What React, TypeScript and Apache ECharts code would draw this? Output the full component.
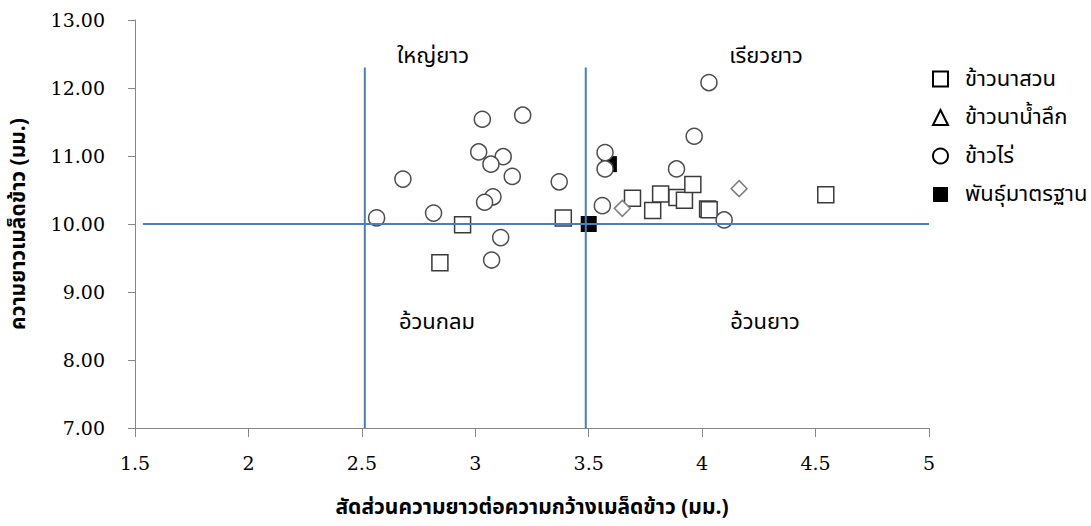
import React, { useEffect, useRef } from 'react';
import * as echarts from 'echarts';

// ข้าวนาสวน (squares)
const paddyRice: number[][] = [
  [2.944, 9.99], [2.844, 9.43], [3.388, 10.09], [3.693, 10.38], [3.817, 10.44],
  [3.782, 10.2], [3.889, 10.39], [3.922, 10.35], [3.959, 10.58], [4.024, 10.22],
  [4.031, 10.21], [4.545, 10.43],
];
// ข้าวนาน้ำลึก (diamonds)
const deepWaterRice: number[][] = [[3.648, 10.23], [4.163, 10.52]];
// ข้าวไร่ (circles)
const uplandRice: number[][] = [
  [3.031, 11.54], [3.209, 11.6], [3.015, 11.06], [3.123, 10.99], [3.069, 10.88],
  [3.163, 10.7], [2.681, 10.66], [3.37, 10.62], [3.078, 10.4], [3.041, 10.32],
  [2.565, 10.09], [2.816, 10.16], [3.112, 9.8], [3.072, 9.47], [4.03, 12.08],
  [3.965, 11.29], [3.572, 11.05], [3.572, 10.81], [3.887, 10.81], [3.56, 10.27],
  [4.097, 10.06],
];
// พันธุ์มาตรฐาน (black squares)
const standardVar: number[][] = [[3.5, 10.0], [3.589, 10.88]];

// dividing lines
const vLine1: number[][] = [[2.513, 7], [2.513, 12.3]];
const vLine2: number[][] = [[3.487, 7], [3.487, 12.3]];
const hLine: number[][] = [[1.535, 10], [5, 10]];

const seriesNames = ['ข้าวนาสวน', 'ข้าวนาน้ำลึก', 'ข้าวไร่', 'พันธุ์มาตรฐาน'];
const quadrantLabels = ['ใหญ่ยาว', 'เรียวยาว', 'อ้วนกลม', 'อ้วนยาว'];
const xName = 'สัดส่วนความยาวต่อความกว้างเมล็ดข้าว (มม.)';
const yName = 'ความยาวเมล็ดข้าว (มม.)';

const THAI = "'Noto Sans Thai', 'Noto Sans Thai UI', 'Noto Sans', 'DejaVu Sans', sans-serif";
const SERIF = "'DejaVu Serif', 'Liberation Serif', serif";

export default function App() {
  const ref = useRef<HTMLDivElement>(null);
  useEffect(() => {
    const chart = echarts.init(ref.current!, null, { renderer: 'svg' });
    const lineStyle = { color: '#4a7ebb', width: 2 };
    const lineSeries = (name: string, data: number[][]) => ({
      name, type: 'line', data, symbol: 'none', z: 3, lineStyle, silent: true,
    });
    const qText = (x: number, y: number, text: string) => ({
      type: 'text', x, y,
      style: { text, fontFamily: THAI, fontSize: 22, fill: '#000', align: 'center', verticalAlign: 'middle' },
    });
    chart.setOption({
      animation: false,
      backgroundColor: '#fff',
      grid: { left: 135, right: 162, top: 20, bottom: 98 },
      xAxis: {
        type: 'value', min: 1.5, max: 5, interval: 0.5,
        name: xName, nameLocation: 'middle', nameGap: 69,
        nameTextStyle: { fontFamily: THAI, fontSize: 21, fontWeight: 'bold', color: '#000' },
        axisLine: { show: true, lineStyle: { color: '#868686', width: 1 } },
        axisTick: { show: true, length: 9, lineStyle: { color: '#868686' } },
        axisLabel: { fontFamily: SERIF, fontSize: 19, color: '#000', margin: 25 },
        splitLine: { show: false },
      },
      yAxis: {
        type: 'value', min: 7, max: 13, interval: 1,
        name: yName, nameLocation: 'middle', nameGap: 106,
        nameTextStyle: { fontFamily: THAI, fontSize: 21, fontWeight: 'bold', color: '#000' },
        axisLine: { show: true, lineStyle: { color: '#868686', width: 1 } },
        axisTick: { show: true, length: 7, lineStyle: { color: '#868686' } },
        axisLabel: { fontFamily: SERIF, fontSize: 19, color: '#000', margin: 30, formatter: (v: number) => v.toFixed(2) },
        splitLine: { show: false },
      },
      legend: {
        orient: 'vertical', left: 927, top: 62,
        itemWidth: 15, itemHeight: 15, itemGap: 14.5,
        textStyle: { fontFamily: THAI, fontSize: 22, lineHeight: 24, color: '#000', padding: [0, 0, 0, 12] },
        data: [
          { name: seriesNames[0], icon: 'rect', itemStyle: { color: '#fff', borderColor: '#000', borderWidth: 2 } },
          { name: seriesNames[1], icon: 'triangle', itemStyle: { color: '#fff', borderColor: '#000', borderWidth: 2 } },
          { name: seriesNames[2], icon: 'circle', itemStyle: { color: '#fff', borderColor: '#000', borderWidth: 2 } },
          { name: seriesNames[3], icon: 'rect', itemStyle: { color: '#000', borderColor: '#000', borderWidth: 0 } },
        ],
      },
      series: [
        {
          name: seriesNames[3], type: 'scatter', data: standardVar, symbol: 'rect', symbolSize: 16, z: 1,
          itemStyle: { color: '#000', opacity: 1 },
        },
        {
          name: seriesNames[0], type: 'scatter', data: paddyRice, symbol: 'rect', symbolSize: 16, z: 2,
          itemStyle: { color: '#fff', borderColor: '#3a3a3a', borderWidth: 1.5, opacity: 1 },
        },
        {
          name: seriesNames[1], type: 'scatter', data: deepWaterRice, symbol: 'diamond', symbolSize: 16, z: 2,
          itemStyle: { color: '#fff', borderColor: '#7f7f7f', borderWidth: 1.5, opacity: 1 },
        },
        {
          name: seriesNames[2], type: 'scatter', data: uplandRice, symbol: 'circle', symbolSize: 16, z: 2,
          itemStyle: { color: '#fff', borderColor: '#4d4d4d', borderWidth: 1.5, opacity: 1 },
        },
        lineSeries('v1', vLine1),
        lineSeries('v2', vLine2),
        lineSeries('h', hLine),
      ],
      graphic: [
        qText(433, 56, quadrantLabels[0]),
        qText(766, 56, quadrantLabels[1]),
        qText(437, 322, quadrantLabels[2]),
        qText(765, 322, quadrantLabels[3]),
      ],
    });
    return () => chart.dispose();
  }, []);
  return <div ref={ref} style={{ position: 'absolute', left: 0, top: 0, width: 1091, height: 526 }} />;
}
